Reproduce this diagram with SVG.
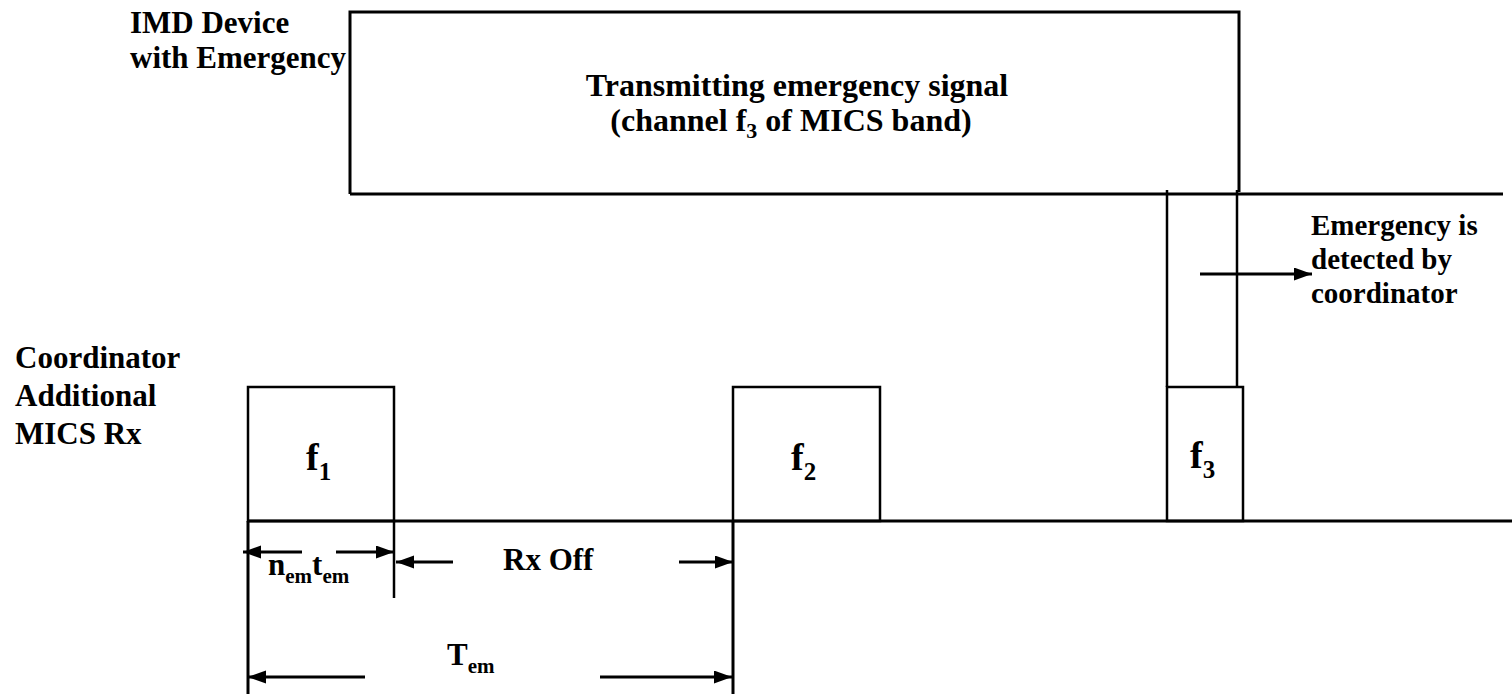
<svg xmlns="http://www.w3.org/2000/svg" width="1512" height="694" viewBox="0 0 1512 694">
<style>
text{font-family:"Liberation Serif","Times New Roman",serif;font-weight:bold;fill:#000}
.lbl{font-size:31px}
.ttl{font-size:32px}
.em{font-size:29px}
.f{font-size:38px}
.ln{stroke:#000;stroke-width:3;fill:none}
.bx{stroke:#000;stroke-width:2.5;fill:none}
.ar{stroke:#000;stroke-width:3;fill:none;marker-end:url(#ah)}
</style>
<defs>
<marker id="ah" markerUnits="userSpaceOnUse" markerWidth="20" markerHeight="14" refX="18" refY="6.5" orient="auto">
<path d="M0,0 L18,6.5 L0,13 Z" fill="#000"/>
</marker>
</defs>
<rect width="1512" height="694" fill="#fff"/>

<g id="label-imd">
<text class="lbl" x="130" y="33">IMD Device</text>
<text class="lbl" x="130" y="68">with Emergency</text>
</g>
<g id="label-coordinator">
<text class="lbl" x="15" y="368">Coordinator</text>
<text class="lbl" x="15" y="406">Additional</text>
<text class="lbl" x="15" y="444">MICS Rx</text>
</g>

<g id="node-transmit">
<path class="ln" d="M350,194 L350,12 L1239,12 L1239,192"/>
<text class="ttl" x="797" y="96" text-anchor="middle">Transmitting emergency signal</text>
<text class="ttl" x="791" y="131" text-anchor="middle">(channel f<tspan font-size="22" dy="7">3</tspan><tspan dy="-7"> of MICS band)</tspan></text>
</g>

<g id="node-f1">
<rect class="bx" x="248" y="387" width="146" height="134"/>
<text class="f" x="306" y="470">f<tspan font-size="25" dy="10">1</tspan></text>
</g>
<g id="node-f2">
<rect class="bx" x="733" y="387" width="147" height="134"/>
<text class="f" x="791" y="470">f<tspan font-size="25" dy="10">2</tspan></text>
</g>
<g id="node-f3">
<rect class="bx" x="1167" y="387" width="76" height="134"/>
<text class="f" x="1190" y="468">f<tspan font-size="25" dy="10">3</tspan></text>
</g>

<g id="label-emergency">
<text class="em" x="1311" y="235">Emergency is</text>
<text class="em" x="1311" y="269">detected by</text>
<text class="em" x="1311" y="303">coordinator</text>
</g>

<g id="labels-timing">
<text class="lbl" x="268" y="575">n<tspan font-size="21" dy="8">em</tspan><tspan dy="-8">t</tspan><tspan font-size="21" dy="8">em</tspan></text>
<text class="lbl" x="503" y="570">Rx Off</text>
<text class="lbl" x="447" y="665">T<tspan font-size="21" dy="8">em</tspan></text>
</g>

<g id="connectors">
<line class="ln" x1="350" y1="194" x2="1503" y2="194"/>
<line class="ln" x1="248" y1="521" x2="1512" y2="521"/>
<line class="bx" x1="1167" y1="190" x2="1167" y2="387"/>
<line class="bx" x1="1237" y1="190" x2="1237" y2="387"/>
<line class="ln" x1="248" y1="521" x2="248" y2="694"/>
<line class="bx" x1="394" y1="521" x2="394" y2="598"/>
<line class="ln" x1="733" y1="521" x2="733" y2="694"/>
<line class="ar" x1="1200" y1="274" x2="1312" y2="274"/>
<line class="ar" x1="302" y1="552" x2="243" y2="552"/>
<line class="ar" x1="336" y1="552" x2="394" y2="552"/>
<line class="ar" x1="453" y1="562" x2="396" y2="562"/>
<line class="ar" x1="679" y1="562" x2="733" y2="562"/>
<line class="ar" x1="365" y1="677" x2="248" y2="677"/>
<line class="ar" x1="600" y1="677" x2="732" y2="677"/>
</g>
</svg>
